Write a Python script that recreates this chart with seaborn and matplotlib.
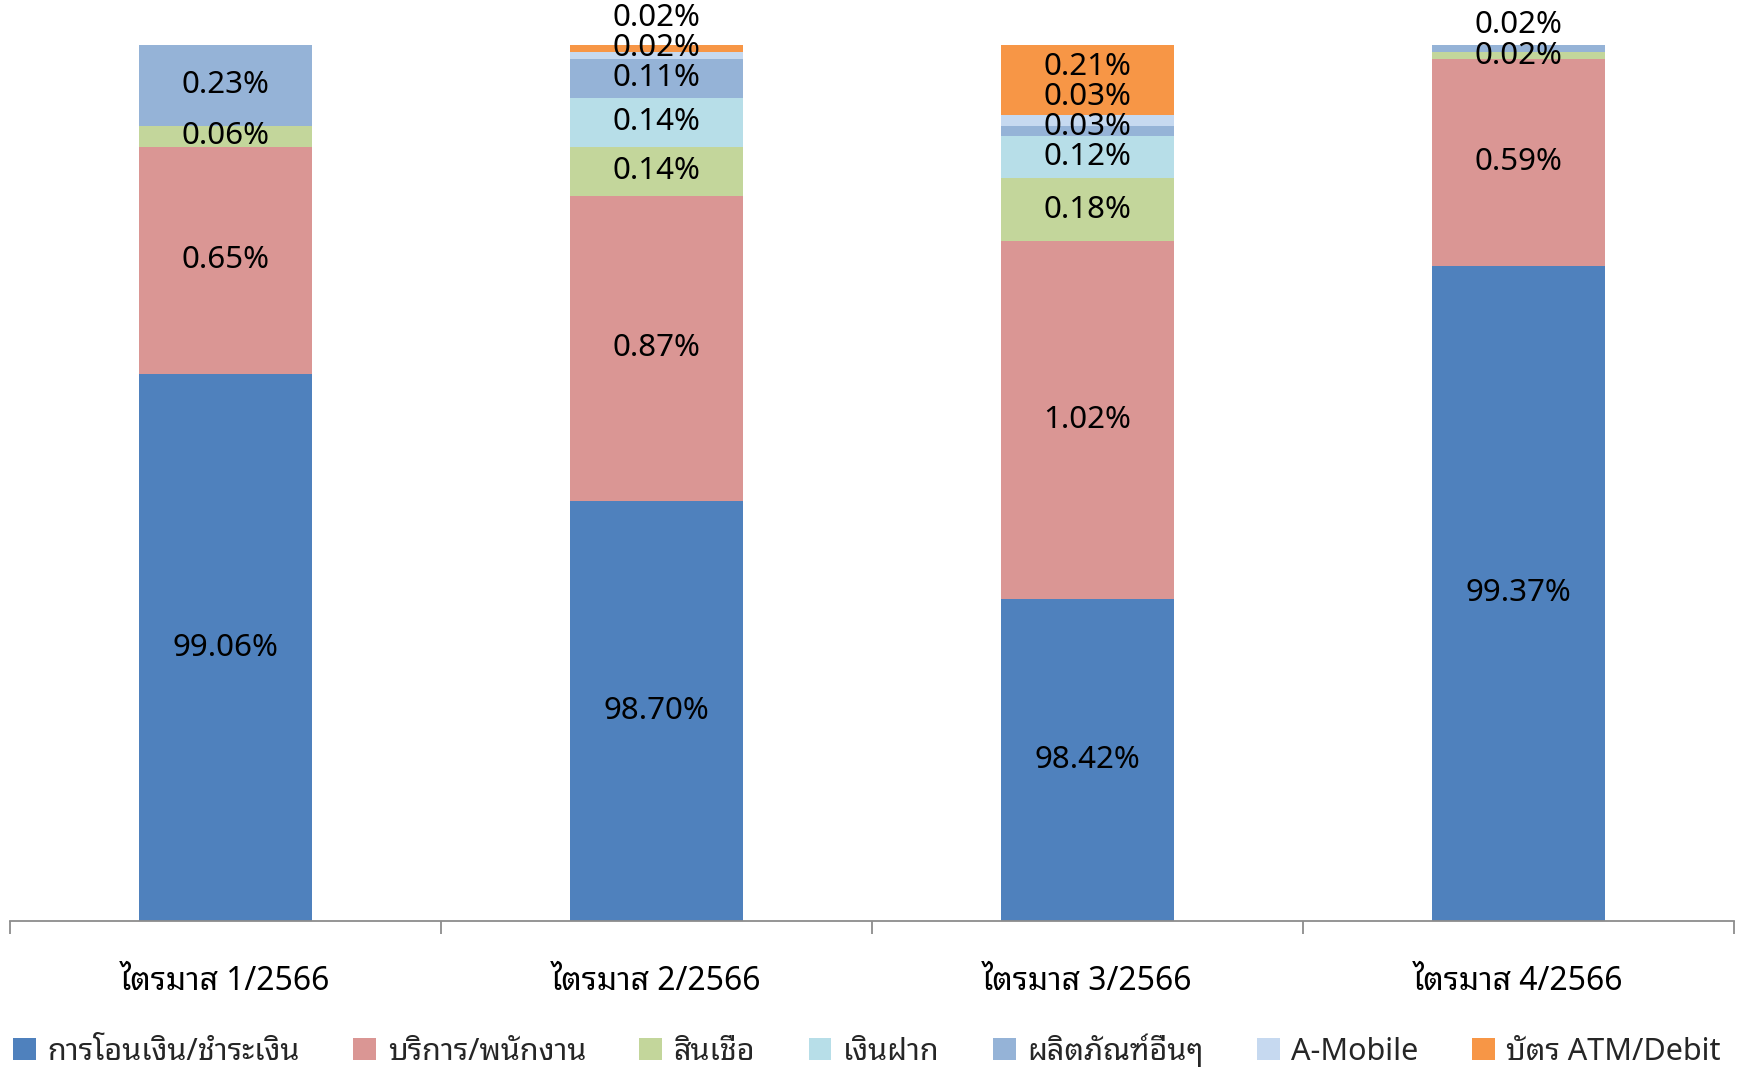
import matplotlib
matplotlib.use("Agg")
import matplotlib.pyplot as plt
from matplotlib import font_manager
from matplotlib.patches import Patch
import seaborn as sns
import pandas as pd
import numpy as np

# ---------------- data ----------------
categories = ["ไตรมาส 1/2566", "ไตรมาส 2/2566", "ไตรมาส 3/2566", "ไตรมาส 4/2566"]
series_names = ["การโอนเงิน/ชำระเงิน", "บริการ/พนักงาน", "สินเชื่อ", "เงินฝาก",
                "ผลิตภัณฑ์อื่นๆ", "A-Mobile", "บัตร ATM/Debit"]
transfer = [99.06, 98.70, 98.42, 99.37]
service = [0.65, 0.87, 1.02, 0.59]
loan = [0.06, 0.14, 0.18, 0.02]
deposit = [0.00, 0.14, 0.12, 0.00]
other = [0.23, 0.11, 0.03, 0.02]
amobile = [0.00, 0.02, 0.03, 0.00]
atm = [0.00, 0.02, 0.21, 0.00]
colors = ["#4F81BD", "#DA9694", "#C3D69B", "#B7DEE8", "#95B3D7", "#C6D9F0", "#F79646"]
y_min, y_max = 97.5, 100.0

series = [transfer, service, loan, deposit, other, amobile, atm]

# ---------------- font with Thai glyphs ----------------
def find_thai_font():
    try:
        from fontTools.ttLib import TTFont
    except Exception:
        return None
    cands = []
    for f in font_manager.fontManager.ttflist:
        try:
            kw = {"fontNumber": 0} if f.fname.lower().endswith(".ttc") else {}
            tt = TTFont(f.fname, lazy=True, **kw)
            cmap = tt.getBestCmap() or {}
            if 0x0E01 in cmap and 0x0E33 in cmap:
                score = 0
                n = f.name.lower()
                if "thai" in n:
                    score += 2
                if "looped" in n:
                    score += 1
                if f.weight in ("normal", 400, "regular"):
                    score += 1
                cands.append((score, f.name))
        except Exception:
            pass
    if not cands:
        return None
    cands.sort(reverse=True)
    return cands[0][1]

sns.set_theme(style="white")
thai = find_thai_font()
fam = ([thai] if thai else []) + ["DejaVu Sans"]
plt.rcParams["font.family"] = fam

# ---------------- figure ----------------
W, H = 1737, 1071
fig = plt.figure(figsize=(W / 100, H / 100), dpi=100)
ax = fig.add_axes([10 / W, 1 - 921 / H, (1734 - 10) / W, (921 - 45) / H])

# stacked bars: draw cumulative totals from top layer down
cum = np.cumsum(np.array(series), axis=0)
for i in range(len(series) - 1, -1, -1):
    df = pd.DataFrame({"cat": categories, "val": cum[i]})
    sns.barplot(data=df, x="cat", y="val", color=colors[i], saturation=1,
                width=0.4, ax=ax, errorbar=None, linewidth=0, edgecolor="none")

ax.set_ylim(y_min, y_max)
ax.set_xlim(-0.5, len(categories) - 0.5)
ax.set_xlabel("")
ax.set_ylabel("")
ax.set_yticks([])
for s in ["top", "right", "left"]:
    ax.spines[s].set_visible(False)
ax.spines["bottom"].set_color("#8C8C8C")
ax.spines["bottom"].set_linewidth(1.3)
ax.set_xticks(range(len(categories)))
ax.set_xticklabels(categories, fontsize=23, color="black")
ax.tick_params(axis="x", which="major", length=0, pad=32)
ax.set_xticks(np.arange(-0.5, len(categories)), minor=True)
ax.tick_params(axis="x", which="minor", length=9.5, width=1.3, color="#8C8C8C", bottom=True)

# data labels: segment centres, pushed upward to avoid overlap
gap = 0.086
for j in range(len(categories)):
    prev = None
    base = 0.0
    for i, s in enumerate(series):
        v = s[j]
        lo = base
        base += v
        if v <= 0:
            continue
        lo_vis = max(lo, y_min)
        y = (lo_vis + min(base, 100.0)) / 2
        if prev is not None and y < prev + gap:
            y = prev + gap
        prev = y
        ax.text(j, y, f"{v:.2f}%", ha="center", va="center", fontsize=22.5,
                color="black", clip_on=False)

# legend
handles = [Patch(facecolor=c, edgecolor="none", label=n) for c, n in zip(colors, series_names)]
fig.legend(handles=handles, loc="center left", bbox_to_anchor=(0.004, 1 - 1050 / H),
           ncol=7, frameon=False, fontsize=22, handlelength=0.75, handleheight=0.75,
           handletextpad=0.38, columnspacing=1.74, borderaxespad=0, borderpad=0.2)

fig.savefig("out.png", dpi=100)
